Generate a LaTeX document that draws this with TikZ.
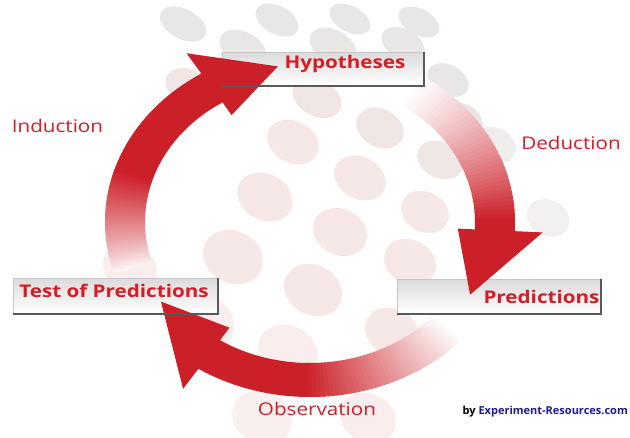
\documentclass[tikz,border=0pt]{standalone}
\usepackage{fontspec}
\setmainfont{Open Sans}
\newfontfamily\labelfont[FakeStretch=1.18]{Open Sans}
\definecolor{arrowred}{RGB}{204,32,40}
\definecolor{labelred}{RGB}{214,28,38}
\definecolor{linkblue}{RGB}{28,28,150}
\definecolor{dotgrey}{RGB}{233,230,230}
\definecolor{dotmix}{RGB}{240,230,230}
\definecolor{dotpink}{RGB}{247,232,232}

% One curved arrow of the cycle, on a common ellipse centred at (310,222).
% #1 tail angle, #2 angle where the colour is full, #3 head base angle,
% #4 tip angle, #5 radial scale of the tip, #6 exponent of the colour ramp
\newcommand\cyclearrow[6]{%
  \foreach \k in {0,...,39}{%
    \pgfmathsetmacro\ta{#1+(#2-#1)*\k/40}%
    \pgfmathsetmacro\tb{#1+(#2-#1)*(\k+1.4)/40}%
    \pgfmathsetmacro\pc{100*((\k+1)/40)^#6}%
    \fill[arrowred!\pc!white]
      ({310+205*cos(\ta)},{222+175*sin(\ta)}) --
      ({310+205*cos(\tb)},{222+175*sin(\tb)}) --
      ({310+165*cos(\tb)},{222+141*sin(\tb)}) --
      ({310+165*cos(\ta)},{222+141*sin(\ta)}) -- cycle;
  }%
  \fill[arrowred]
    plot[domain=#2:#3,samples=25] ({310+205*cos(\x)},{222+175*sin(\x)}) --
    ({310+233*cos(#3)},{222+199*sin(#3)}) --
    ({310+185*#5*cos(#4)},{222+158*#5*sin(#4)}) --
    ({310+148*cos(#3)},{222+126*sin(#3)}) --
    plot[domain=#3:#2,samples=25] ({310+165*cos(\x)},{222+141*sin(\x)}) -- cycle;
}

\begin{document}
\begin{tikzpicture}[x=1pt,y=-1pt,
  panel/.style={draw=gray!45, line width=0.6pt, top color=gray!28, bottom color=white, inner sep=0pt},
  edgeline/.style={draw=black!65, line width=1.8pt},
  boldlabel/.style={font=\labelfont\bfseries\fontsize{17.5}{20}\selectfont, text=labelred, inner sep=0pt, anchor=base},
  steplabel/.style={font=\labelfont\fontsize{17.5}{20}\selectfont, text=labelred, inner sep=0pt, anchor=base}]
\useasboundingbox (0,0) rectangle (630,437);
\fill[white] (0,0) rectangle (630,437);

% diagonal background bands
\foreach \xa/\xb in {290/40, 367/139, 436/254, 505/365}{%
  \shade[top color=white, middle color=gray!8, bottom color=white]
    (\xa-32,0) -- (\xa+32,0) -- (\xb+32,437) -- (\xb-32,437) -- cycle;
}

% rows of tilted discs on the bands
\foreach \ex/\ey/\erx/\ery/\ec in {
  183/24/25/15/dotgrey, 277/20/23/14/dotgrey, 350/19/22/13/dotgrey,
  419/22/22/13/dotgrey, 243/48/25/16/dotgrey, 333/46/25/16/dotgrey,
  403/44/23/15/dotgrey, 448/80/22/15/dotgrey, 462/120/22/16/dotgrey,
  495/145/22/17/dotgrey!70, 548/218/22/18/dotgrey!60,
  190/88/26/18/dotmix, 317/98/26/18/dotmix, 293/142/27/21/dotpink,
  265/197/29/23/dotpink, 233/257/31/26/dotpink, 203/322/32/27/dotpink!80,
  380/128/25/19/dotmix, 360/178/27/21/dotpink,
  340/232/28/23/dotpink, 313/290/30/25/dotpink, 288/352/31/26/dotpink!80,
  262/418/31/26/dotpink!70, 440/160/24/18/dotmix, 425/212/25/20/dotpink,
  410/262/27/22/dotpink, 392/332/28/23/dotpink, 368/418/29/24/dotpink!80,
  130/268/28/23/dotpink!80}{%
  \fill[\ec, rotate around={-28:(\ex,\ey)}] (\ex,\ey) ellipse [x radius=\erx, y radius=\ery];
}

% lower panels
\node[panel, minimum width=204pt, minimum height=35pt] (predbox) at (499,296.5) {};
\node[panel, minimum width=205pt, minimum height=36pt] (testbox) at (115.5,296) {};

% Deduction
\cyclearrow{303}{360}{363}{388}{0.98}{1.25}

% upper panel
\node[panel, minimum width=202pt, minimum height=34pt] (hypbox) at (323,69) {};

% Induction and Observation
\cyclearrow{163}{198}{238}{260}{1.0}{0.8}
\cyclearrow{42}{92}{123}{148}{0.95}{1.0}

% dark edges of the panels
\draw[edgeline] (hypbox.south west) -- (hypbox.south east) -- (hypbox.north east);
\draw[edgeline] (predbox.south west) -- (predbox.south east) -- (predbox.north east);
\draw[edgeline] (testbox.south west) -- (testbox.south east) -- (testbox.north east);

% texts
\node[boldlabel] (hyp) at (345,68.3) {Hypotheses};
\node[boldlabel] (pred) at (541.5,303.3) {Predictions};
\node[boldlabel] (test) at (114,297.3) {Test of Predictions};
\node[steplabel] (ind) at (57.5,132.7) {Induction};
\node[steplabel] (ded) at (571,149.5) {Deduction};
\node[steplabel] (obs) at (317,415) {Observation};
\node[anchor=base east, inner sep=0pt, font=\bfseries\fontsize{11}{13}\selectfont] (credit) at (628,414)
  {by \textcolor{linkblue}{Experiment-Resources.com}};
\end{tikzpicture}
\end{document}
